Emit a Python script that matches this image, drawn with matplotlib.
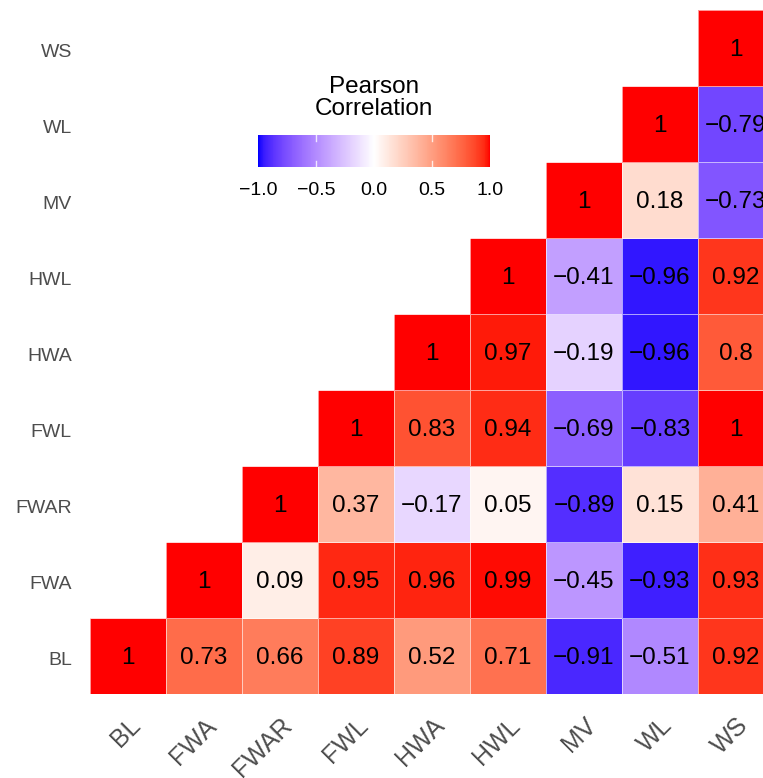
import numpy as np
import matplotlib
matplotlib.use("Agg")
import matplotlib.pyplot as plt
from matplotlib.colors import ListedColormap

plt.rcParams['font.family'] = ['Liberation Sans', 'DejaVu Sans']

variables = ["BL", "FWA", "FWAR", "FWL", "HWA", "HWL", "MV", "WL", "WS"]

# upper-triangle correlations, row by row (row variable vs columns from itself to WS)
row_BL = [1, 0.73, 0.66, 0.89, 0.52, 0.71, -0.91, -0.51, 0.92]
row_FWA = [1, 0.09, 0.95, 0.96, 0.99, -0.45, -0.93, 0.93]
row_FWAR = [1, 0.37, -0.17, 0.05, -0.89, 0.15, 0.41]
row_FWL = [1, 0.83, 0.94, -0.69, -0.83, 1.00]
row_HWA = [1, 0.97, -0.19, -0.96, 0.80]
row_HWL = [1, -0.41, -0.96, 0.92]
row_MV = [1, 0.18, -0.73]
row_WL = [1, -0.79]
row_WS = [1]

rows = [row_BL, row_FWA, row_FWAR, row_FWL, row_HWA, row_HWL, row_MV, row_WL, row_WS]
legend_ticks = [-1.0, -0.5, 0.0, 0.5, 1.0]

n = len(variables)
M = np.full((n, n), np.nan)
for i, r in enumerate(rows):
    for k, v in enumerate(r):
        M[i, i + k] = v

# --- Lab-space diverging palette (blue - white - red) like ggplot gradient2
def srgb_to_lin(c):
    c = np.asarray(c, float)
    return np.where(c <= 0.04045, c / 12.92, ((c + 0.055) / 1.055) ** 2.4)

def lin_to_srgb(c):
    c = np.clip(c, 0, 1)
    return np.where(c <= 0.0031308, 12.92 * c, 1.055 * c ** (1 / 2.4) - 0.055)

Mx = np.array([[0.4124, 0.3576, 0.1805], [0.2126, 0.7152, 0.0722], [0.0193, 0.1192, 0.9505]])
wp = np.array([0.95047, 1.0, 1.08883])

def rgb2lab(rgb):
    xyz = Mx @ srgb_to_lin(rgb) / wp
    f = np.where(xyz > (6/29)**3, np.cbrt(xyz), xyz / (3*(6/29)**2) + 4/29)
    return np.array([116*f[1]-16, 500*(f[0]-f[1]), 200*(f[1]-f[2])])

def lab2rgb(lab):
    L, a, b = lab
    fy = (L + 16) / 116
    fx = fy + a / 500
    fz = fy - b / 200
    f = np.array([fx, fy, fz])
    xyz = np.where(f > 6/29, f**3, 3*(6/29)**2*(f - 4/29)) * wp
    return lin_to_srgb(np.linalg.solve(Mx, xyz))

lab_b = rgb2lab([0, 0, 1]); lab_w = rgb2lab([1, 1, 1]); lab_r = rgb2lab([1, 0, 0])
cols = []
for t in np.linspace(-1, 1, 256):
    if t < 0:
        lab = lab_w + (-t) * (lab_b - lab_w)
    else:
        lab = lab_w + t * (lab_r - lab_w)
    cols.append(lab2rgb(lab))
cmap = ListedColormap(np.clip(np.array(cols), 0, 1))

W, H = 763, 778
fig = plt.figure(figsize=(W/100, H/100), dpi=100)
ax = fig.add_axes([90/W, (H-694)/H, 684/W, 684/H])

Mm = np.ma.masked_invalid(M)
ax.pcolormesh(np.arange(n+1), np.arange(n+1), Mm, cmap=cmap, vmin=-1, vmax=1,
              edgecolors=(1, 1, 1, 0.6), linewidth=0.5)

def fmt(v):
    s = f"{round(v, 2):g}"
    return s.replace("-", "\u2212")

for i in range(n):
    for j in range(n):
        if not np.isnan(M[i, j]):
            ax.text(j + 0.5, i + 0.47, fmt(M[i, j]), ha='center', va='center',
                    fontsize=17.5, color='black')

ax.set_xlim(0, n); ax.set_ylim(0, n)
ax.set_xticks(np.arange(n) + 0.5)
ax.set_yticks(np.arange(n) + 0.47)
ax.set_xticklabels(variables, rotation=45, ha='right', va='top', rotation_mode='anchor',
                   fontsize=18, color='#4D4D4D')
ax.set_yticklabels(variables, fontsize=14, color='#4D4D4D')
ax.tick_params(length=0, axis='y', pad=13)
ax.tick_params(length=0, axis='x', pad=14)
for s in ax.spines.values():
    s.set_visible(False)

# legend colorbar
cax = fig.add_axes([258/W, (H-167)/H, 232/W, 32/H])
sm = matplotlib.cm.ScalarMappable(cmap=cmap, norm=matplotlib.colors.Normalize(-1, 1))
cb = fig.colorbar(sm, cax=cax, orientation='horizontal', ticks=legend_ticks)
cb.outline.set_visible(False)
cb.ax.set_xticklabels([f"{t:.1f}".replace("-", "\u2212") for t in legend_ticks], fontsize=14)
cb.ax.tick_params(length=0, pad=11)
for t in legend_ticks[1:-1]:
    cax.plot([t, t], [0, 0.2], color='white', lw=1, alpha=0.8, transform=cax.get_xaxis_transform())
    cax.plot([t, t], [0.8, 1.0], color='white', lw=1, alpha=0.8, transform=cax.get_xaxis_transform())
fig.text(374/W, 1 - 98/H, "Pearson\nCorrelation", ha='center', va='center',
         fontsize=17.5, linespacing=1.05)

fig.savefig("out.png", dpi=100)
